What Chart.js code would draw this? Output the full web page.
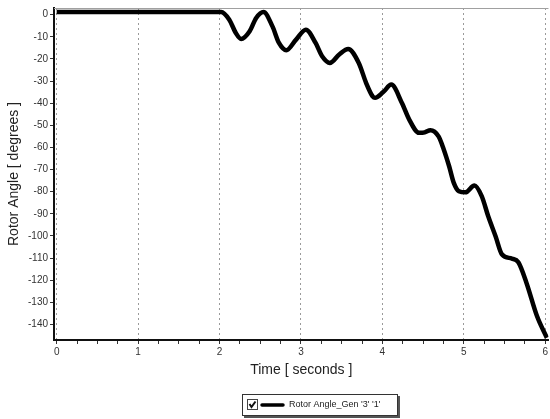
<!DOCTYPE html>
<html>
<head>
<meta charset="utf-8">
<script src="https://cdn.jsdelivr.net/npm/chart.js@4/dist/chart.umd.min.js"></script>
<style>
  html, body { margin: 0; padding: 0; background: #fff; }
  #wrap { width: 550px; height: 419px; position: relative; }
</style>
</head>
<body>
<div id="wrap"><canvas id="c" width="550" height="419"></canvas></div>
<script>
// Simulation trace: generator rotor angle over time
const timeSec = [0, 2.02, 2.12, 2.20, 2.265, 2.37, 2.45, 2.54, 2.65, 2.73, 2.82, 2.94, 3.06, 3.18, 3.26, 3.355, 3.47, 3.58, 3.71, 3.80, 3.88, 3.91, 4.01, 4.11, 4.24, 4.33, 4.45, 4.52, 4.59, 4.69, 4.755, 4.82, 4.877, 4.94, 5.02, 5.13, 5.22, 5.30, 5.39, 5.47, 5.59, 5.67, 5.77, 5.90, 6.02];
const rotorAngle = [1.2, 1.2, -2.3, -8.3, -11, -7.5, -1.5, 1.2, -5.3, -12.8, -16.1, -11.3, -6.8, -12.8, -18.8, -21.8, -18, -15.5, -21.8, -30.8, -36.9, -37.6, -35, -31.6, -39.9, -47.4, -53.4, -53.2, -52.2, -55, -61, -68.5, -76, -79.8, -80.3, -77.2, -82, -91.1, -100.1, -108.4, -110.2, -111.9, -121.2, -136.3, -146];
const yTicks = [0, -10, -20, -30, -40, -50, -60, -70, -80, -90, -100, -110, -120, -130, -140];
const seriesName = "Rotor Angle_Gen '3' '1'";
const xTitle = 'Time [ seconds ]';
const yTitle = 'Rotor Angle [ degrees ]';

const FONT = "'Liberation Sans', Arial, sans-serif";

const points = timeSec.map((t, i) => ({ x: t, y: rotorAngle[i] }));

// Thin frame along the top of the plot area
const frame = {
  id: 'frame',
  beforeDatasetsDraw(chart) {
    const { ctx, chartArea: a } = chart;
    ctx.save();
    ctx.strokeStyle = '#a0a0a0';
    ctx.lineWidth = 1;
    ctx.beginPath();
    ctx.moveTo(a.left, a.top + 0.5);
    ctx.lineTo(a.right, a.top + 0.5);
    ctx.stroke();
    ctx.restore();
  }
};

// Boxed legend with a checkbox, drawn under the x axis
const boxLegend = {
  id: 'boxLegend',
  afterDraw(chart) {
    const ctx = chart.ctx;
    const ds = chart.data.datasets[0];
    const bx = 242, by = 394, bw = 156, bh = 22;
    ctx.save();
    // shadow
    ctx.fillStyle = '#555';
    ctx.fillRect(bx + 2, by + 2, bw, bh);
    ctx.fillStyle = '#fff';
    ctx.fillRect(bx, by, bw, bh);
    ctx.strokeStyle = '#333';
    ctx.lineWidth = 1;
    ctx.strokeRect(bx + 0.5, by + 0.5, bw - 1, bh - 1);
    // checkbox
    const cx = bx + 5, cy = by + 5;
    ctx.fillStyle = '#fff';
    ctx.fillRect(cx, cy, 10, 10);
    ctx.strokeStyle = '#444';
    ctx.strokeRect(cx + 0.5, cy + 0.5, 10, 10);
    ctx.strokeStyle = '#111';
    ctx.lineWidth = 2;
    ctx.beginPath();
    ctx.moveTo(cx + 2.5, cy + 5);
    ctx.lineTo(cx + 4.5, cy + 8);
    ctx.lineTo(cx + 8.5, cy + 2.5);
    ctx.stroke();
    // line sample
    ctx.strokeStyle = ds.borderColor;
    ctx.lineWidth = 3.5;
    ctx.lineCap = 'round';
    ctx.beginPath();
    ctx.moveTo(bx + 20, by + 11);
    ctx.lineTo(bx + 41, by + 11);
    ctx.stroke();
    // label
    ctx.fillStyle = '#222';
    ctx.font = '9px ' + FONT;
    ctx.textBaseline = 'middle';
    ctx.textAlign = 'left';
    ctx.fillText(ds.label, bx + 47, by + 11);
    ctx.restore();
  }
};

new Chart(document.getElementById('c'), {
  type: 'line',
  data: {
    datasets: [{
      label: seriesName,
      data: points,
      borderColor: '#000',
      borderWidth: 4.5,
      pointRadius: 0,
      cubicInterpolationMode: 'monotone',
      fill: false
    }]
  },
  options: {
    responsive: false,
    animation: false,
    events: [],
    layout: { autoPadding: false, padding: { top: 8, right: 0, left: 0, bottom: 0 } },
    plugins: { legend: { display: false }, tooltip: { enabled: false } },
    scales: {
      x: {
        type: 'linear',
        min: -0.033,
        max: 6.04,
        afterFit(scale) { scale.height = 79; },
        ticks: {
          stepSize: 0.25,
          includeBounds: false,
          autoSkip: false,
          maxRotation: 0,
          padding: 2,
          color: '#333',
          font: { family: FONT, size: 10 },
          callback: (v) => Number.isInteger(v) ? String(v) : ''
        },
        grid: {
          color: (c) => (c.tick && Number.isInteger(c.tick.value)) ? '#9a9a9a' : 'rgba(0,0,0,0)',
          lineWidth: 1,
          tickColor: '#333',
          tickLength: 4,
          drawTicks: true
        },
        border: { display: true, color: '#111', width: 2, dash: [2, 3] },
        title: {
          display: true,
          text: xTitle,
          color: '#222',
          font: { family: FONT, size: 14 },
          padding: { top: 0, bottom: 40 }
        }
      },
      y: {
        type: 'linear',
        min: -147,
        max: 3,
        afterFit(scale) { scale.width = 54; },
        afterBuildTicks(scale) { scale.ticks = yTicks.map((v) => ({ value: v })); },
        ticks: {
          autoSkip: false,
          padding: 2,
          color: '#333',
          font: { family: FONT, size: 10 }
        },
        grid: {
          drawOnChartArea: false,
          drawTicks: true,
          tickColor: '#333',
          tickLength: 4
        },
        border: { display: true, color: '#111', width: 2 },
        title: {
          display: true,
          text: yTitle,
          color: '#222',
          font: { family: FONT, size: 14 },
          padding: { top: 6, bottom: 0 }
        }
      }
    }
  },
  plugins: [frame, boxLegend]
});
</script>
</body>
</html>
